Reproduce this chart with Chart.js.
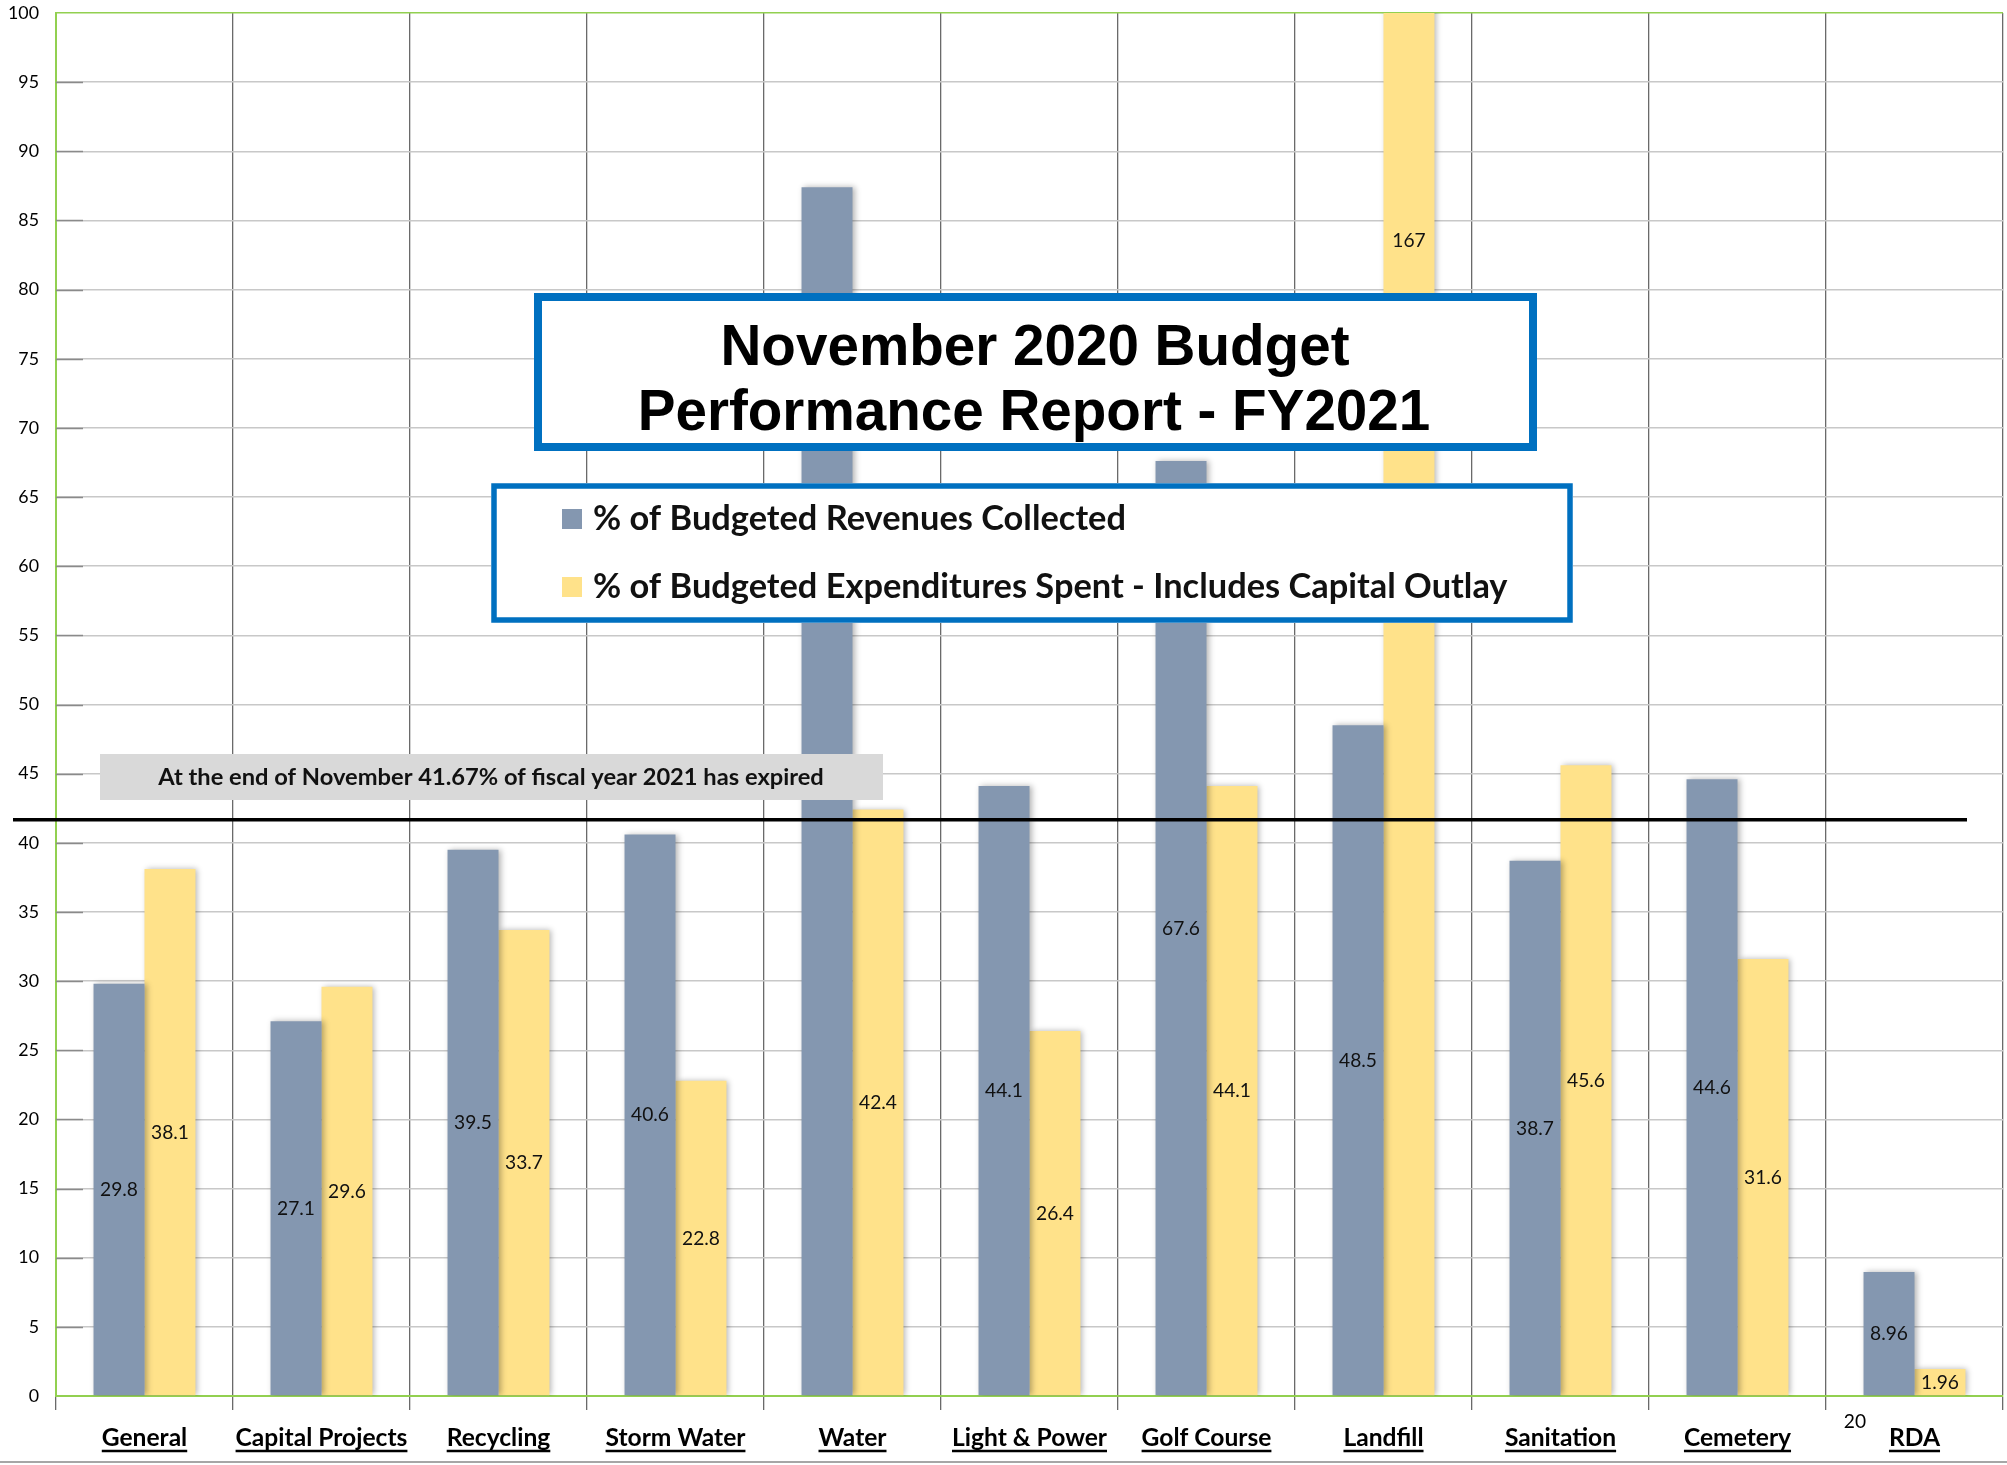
<!DOCTYPE html>
<html><head><meta charset="utf-8">
<script src="https://cdn.jsdelivr.net/npm/chart.js@4"></script>
<style>html,body{margin:0;padding:0;background:#fff;overflow:hidden}#wrap{position:relative;width:2007px;height:1465px}</style>
</head><body><div id="wrap"><canvas id="c" width="2007" height="1465"></canvas></div>
<script>
// ---- data ----
const categories = ['General','Capital Projects','Recycling','Storm Water','Water','Light & Power','Golf Course','Landfill','Sanitation','Cemetery','RDA'];
const revenuesCollected = [29.8, 27.1, 39.5, 40.6, 87.4, 44.1, 67.6, 48.5, 38.7, 44.6, 8.96];
const expendituresSpent = [38.1, 29.6, 33.7, 22.8, 42.4, 26.4, 44.1, 167, 45.6, 31.6, 1.96];
const seriesLabels = ['% of Budgeted Revenues Collected', '% of Budgeted Expenditures Spent - Includes Capital Outlay'];
const yTickValues = [0,5,10,15,20,25,30,35,40,45,50,55,60,65,70,75,80,85,90,95,100];
const titleLines = ['November 2020 Budget', 'Performance Report - FY2021'];
const fiscalExpired = 41.67;
const noteText = 'At the end of November 41.67% of fiscal year 2021 has expired';
const strayText = '20';

// ---- styles ----
const BLUE = '#8497B0', YELLOW = '#FFE28A', GREEN = '#92D050', FRAME = '#0070C0';
const SANS = 'Lato, "Open Sans", sans-serif';
const TITLE = '"Liberation Sans", Arial, sans-serif';

function fitSize(ctx, text, weight, family, target){
  ctx.font = weight + ' 100px ' + family;
  return 100 * target / ctx.measureText(text).width;
}

const shadowPlugin = {
  id: 'barShadow',
  beforeDatasetsDraw(chart){
    const ctx = chart.ctx; ctx.save();
    ctx.shadowColor = 'rgba(0,0,0,0.30)'; ctx.shadowBlur = 6; ctx.shadowOffsetX = 2; ctx.shadowOffsetY = 0;
  },
  afterDatasetsDraw(chart){ chart.ctx.restore(); }
};

const overlayPlugin = {
  id: 'overlay',
  afterDraw(chart){
    const ctx = chart.ctx, xs = chart.scales.x, ys = chart.scales.y, ca = chart.chartArea;
    ctx.save();
    // y tick marks (inside plot)
    ctx.strokeStyle = '#8a8a8a'; ctx.lineWidth = 1.5;
    yTickValues.forEach(v => {
      if (v === 0 || v === 100) return;
      const y = Math.round(ys.getPixelForValue(v)) + 0.5;
      ctx.beginPath(); ctx.moveTo(ca.left, y); ctx.lineTo(ca.left + 27, y); ctx.stroke();
    });
    // value labels (centered in the bar)
    const lblSize = fitSize(ctx, '29.8', 'normal', SANS, 38);
    ctx.font = lblSize.toFixed(1) + 'px ' + SANS;
    ctx.fillStyle = '#111'; ctx.textAlign = 'center'; ctx.textBaseline = 'middle';
    chart.data.datasets.forEach((ds, di) => {
      const meta = chart.getDatasetMeta(di);
      meta.data.forEach((bar, i) => {
        const v = ds.data[i];
        ctx.fillText(String(v), bar.x, ys.getPixelForValue(v / 2));
      });
    });
    // threshold line
    const ty = ys.getPixelForValue(fiscalExpired);
    ctx.strokeStyle = '#000'; ctx.lineWidth = 3.5;
    ctx.beginPath(); ctx.moveTo(13, ty); ctx.lineTo(1967, ty); ctx.stroke();
    // note box
    ctx.fillStyle = '#D9D9D9'; ctx.fillRect(100, 754, 783, 46);
    const ns = fitSize(ctx, noteText, 'bold', SANS, 665);
    ctx.font = 'bold ' + ns.toFixed(1) + 'px ' + SANS; ctx.fillStyle = '#111';
    ctx.fillText(noteText, 491, 777);
    // title box
    ctx.fillStyle = '#fff'; ctx.fillRect(534, 293, 1003, 158);
    ctx.strokeStyle = FRAME; ctx.lineWidth = 8; ctx.strokeRect(538, 297, 995, 150);
    const ts = fitSize(ctx, titleLines[1], 'bold', TITLE, 793);
    ctx.font = 'bold ' + ts.toFixed(1) + 'px ' + TITLE; ctx.fillStyle = '#000';
    ctx.textBaseline = 'alphabetic';
    ctx.fillText(titleLines[0], 1035, 365);
    ctx.fillText(titleLines[1], 1034, 430);
    // legend box
    ctx.fillStyle = '#fff'; ctx.fillRect(491, 483, 1082, 140);
    ctx.strokeStyle = FRAME; ctx.lineWidth = 5.5; ctx.strokeRect(494, 486, 1076, 134);
    const ls = fitSize(ctx, seriesLabels[1], 'bold', SANS, 916);
    ctx.font = 'bold ' + ls.toFixed(1) + 'px ' + SANS; ctx.textAlign = 'left'; ctx.textBaseline = 'middle';
    const rows = [519, 587];
    chart.data.datasets.forEach((ds, di) => {
      ctx.fillStyle = ds.backgroundColor; ctx.fillRect(562, rows[di] - 10, 20, 20);
      ctx.fillStyle = '#111'; ctx.fillText(ds.label, 593, rows[di]);
    });
    // x labels, bold underlined
    const xsz = fitSize(ctx, 'Capital Projects', 'bold', SANS, 172);
    ctx.font = 'bold ' + xsz.toFixed(1) + 'px ' + SANS; ctx.textAlign = 'center'; ctx.textBaseline = 'alphabetic';
    ctx.fillStyle = '#000'; ctx.strokeStyle = '#000'; ctx.lineWidth = 2.4;
    categories.forEach((c, i) => {
      const x = xs.getPixelForValue(i), base = 1446;
      ctx.fillText(c, x, base);
      const w = ctx.measureText(c).width;
      ctx.beginPath(); ctx.moveTo(x - w/2, base + 5); ctx.lineTo(x + w/2, base + 5); ctx.stroke();
    });
    // stray text
    ctx.font = lblSize.toFixed(1) + 'px ' + SANS; ctx.textBaseline = 'middle';
    ctx.fillText(strayText, 1855, 1422);
    // bottom rule
    ctx.strokeStyle = '#A6A6A6'; ctx.lineWidth = 2;
    ctx.beginPath(); ctx.moveTo(0, 1462); ctx.lineTo(2007, 1462); ctx.stroke();
    ctx.restore();
  }
};

const yTickSize = (() => { const c = document.createElement('canvas').getContext('2d'); return fitSize(c, '100', 'normal', SANS, 31); })();

new Chart(document.getElementById('c'), {
  type: 'bar',
  data: {
    labels: categories,
    datasets: [
      { label: seriesLabels[0], data: revenuesCollected, backgroundColor: BLUE, categoryPercentage: 0.576, barPercentage: 1.0 },
      { label: seriesLabels[1], data: expendituresSpent, backgroundColor: YELLOW, categoryPercentage: 0.576, barPercentage: 1.0 }
    ]
  },
  options: {
    responsive: false, animation: false, devicePixelRatio: 1,
    layout: { padding: { top: 13, right: 4, left: 0, bottom: 0 } },
    plugins: { legend: { display: false }, tooltip: { enabled: false }, title: { display: false } },
    scales: {
      x: {
        grid: { offset: true, color: '#6a6a6a', lineWidth: 1.3, tickLength: 14, drawTicks: true },
        border: { color: GREEN, width: 2 },
        ticks: { color: 'rgba(0,0,0,0)', font: { size: 12 } },
        afterFit(s){ s.height = 69; }
      },
      y: {
        min: 0, max: 100,
        afterBuildTicks(s){ s.ticks = yTickValues.map(v => ({ value: v })); },
        grid: { color: ctx => (ctx.tick && ctx.tick.value === 100) ? GREEN : '#C8C8C8', lineWidth: 1.5, drawTicks: false },
        border: { color: GREEN, width: 2 },
        ticks: { padding: 17, color: '#000', font: { family: SANS, size: yTickSize, lineHeight: 0.2 } },
        afterFit(s){ s.width = 56; s.paddingTop = 0; s.paddingBottom = 0; }
      }
    }
  },
  plugins: [shadowPlugin, overlayPlugin]
});
</script></body></html>
